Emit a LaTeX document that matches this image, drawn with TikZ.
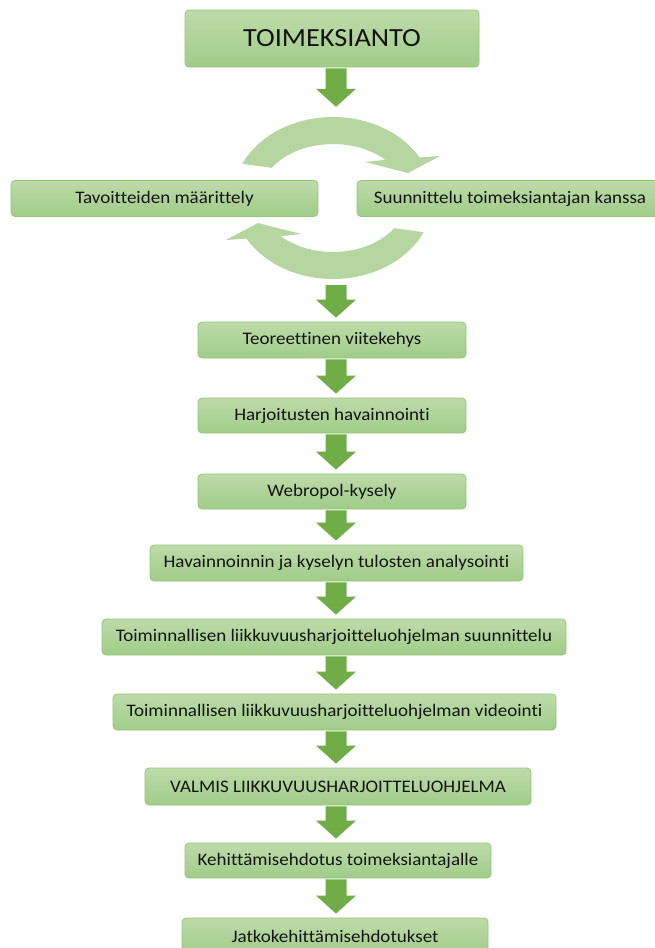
\documentclass[tikz,border=0pt]{standalone}
\usepackage{fontspec}
\setmainfont{Carlito}[FakeStretch=1.08, Ligatures=NoCommon]
\usetikzlibrary{calc}
\definecolor{boxtop}{RGB}{190,219,170}
\definecolor{boxbot}{RGB}{160,204,136}
\definecolor{boxline}{RGB}{150,198,122}
\definecolor{darrowc}{RGB}{112,173,71}
\definecolor{larrowc}{RGB}{181,213,161}
\definecolor{txt}{RGB}{20,20,20}
\newcommand{\blockarrow}[2]{%
  \fill[darrow] let \p1=(#1.south -| axis), \p2=(#2.north -| axis) in
  (\x1-10.5pt,\y1-1pt) -- (\x1+10.5pt,\y1-1pt) -- (\x1+10.5pt,\y2+22pt) --
  (\x1+20pt,\y2+22pt) -- (\x1,\y2+4pt) -- (\x1-20pt,\y2+22pt) --
  (\x1-10.5pt,\y2+22pt) -- cycle;}
\tikzset{
  flowbox/.style={rectangle, rounded corners=4pt, top color=boxtop, bottom color=boxbot,
    draw=boxline, line width=0.8pt, inner sep=0pt, text=txt,
    font=\fontsize{17.6}{21}\selectfont},
  darrow/.style={fill=darrowc},
  larrow/.style={fill=larrowc},
  pt/.style={inner sep=0pt, minimum size=0pt}
}
\begin{document}
\begin{tikzpicture}[x=1pt,y=-1pt]
\useasboundingbox (0,0) rectangle (655,948);
\fill[white] (0,0) rectangle (655,948);
\coordinate (axis) at (336,0);
\coordinate (C) at (333,198);

\node[flowbox, minimum width=294, minimum height=57, font=\fontsize{26.2}{30}\selectfont] (toim) at (332,38.5) {TOIMEKSIANTO};
\node[flowbox, minimum width=307, minimum height=36] (tav) at (164.5,198.5) {Tavoitteiden määrittely};
\node[flowbox, minimum width=306, minimum height=36] (suu) at (510,198.5) {Suunnittelu toimeksiantajan kanssa};
\node[flowbox, minimum width=268, minimum height=36] (teo) at (332,340) {Teoreettinen viitekehys};
\node[flowbox, minimum width=268, minimum height=35] (har) at (332,415.5) {Harjoitusten havainnointi};
\node[flowbox, minimum width=268, minimum height=35] (web) at (332,491.5) {Webropol-kysely};
\node[flowbox, minimum width=373, minimum height=36] (hav) at (336.5,563) {Havainnoinnin ja kyselyn tulosten analysointi};
\node[flowbox, minimum width=464, minimum height=36] (sun) at (334,637) {Toiminnallisen liikkuvuusharjoitteluohjelman suunnittelu};
\node[flowbox, minimum width=443, minimum height=36] (vid) at (334.5,712) {Toiminnallisen liikkuvuusharjoitteluohjelman videointi};
\node[flowbox, minimum width=386, minimum height=37] (val) at (338,786.5) {VALMIS LIIKKUVUUSHARJOITTELUOHJELMA};
\node[flowbox, minimum width=306, minimum height=35] (keh) at (338,860.5) {Kehittämisehdotus toimeksiantajalle};
\node[flowbox, minimum width=306, minimum height=36] (jat) at (335,936) {Jatkokehittämisehdotukset};

% circular arrows
\fill[larrow] ($(C)+(-155:100 and 81)$) arc[start angle=-155, end angle=-30, x radius=100, y radius=81]
  -- ($(C)+(107,-42)$) -- ($(C)+(75,-25)$) -- ($(C)+(32,-36)$)
  -- ($(C)+(-45:74 and 54)$) arc[start angle=-45, end angle=-146, x radius=74, y radius=54] -- cycle;
\fill[larrow] ($(C)+(25:100 and 81)$) arc[start angle=25, end angle=150, x radius=100, y radius=81]
  -- ($(C)+(-107,42)$) -- ($(C)+(-75,25)$) -- ($(C)+(-32,36)$)
  -- ($(C)+(135:74 and 54)$) arc[start angle=135, end angle=34, x radius=74, y radius=54] -- cycle;

\node[pt] (cyctop) at (336,111) {};
\node[pt] (cycbot) at (336,284) {};

\blockarrow{toim}{cyctop}
\blockarrow{cycbot}{teo}
\blockarrow{teo}{har}
\blockarrow{har}{web}
\blockarrow{web}{hav}
\blockarrow{hav}{sun}
\blockarrow{sun}{vid}
\blockarrow{vid}{val}
\blockarrow{val}{keh}
\blockarrow{keh}{jat}
\end{tikzpicture}
\end{document}
